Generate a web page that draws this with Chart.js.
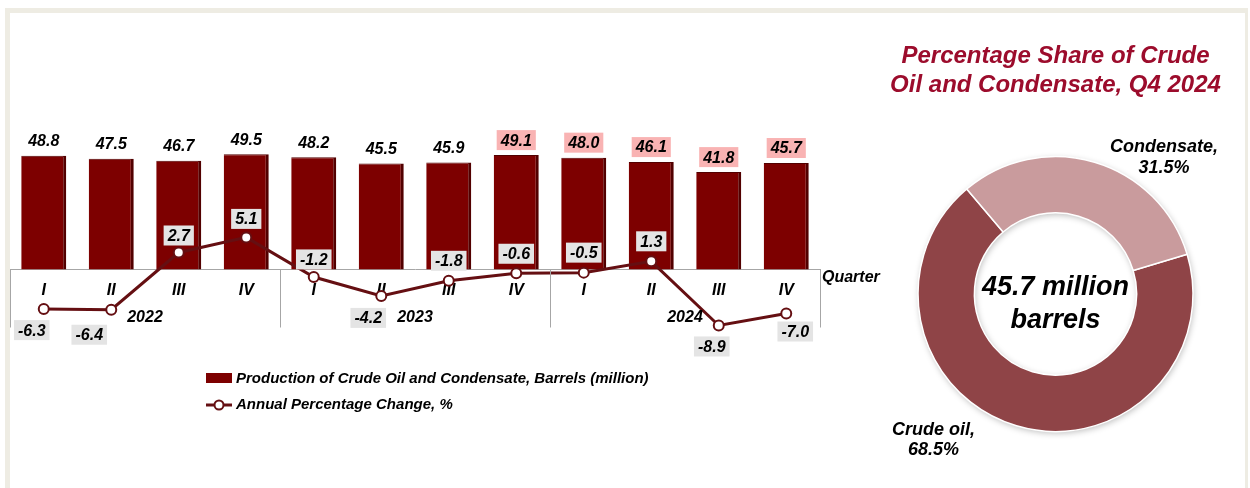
<!DOCTYPE html>
<html><head><meta charset="utf-8">
<script src="https://cdn.jsdelivr.net/npm/chart.js@4.4.1/dist/chart.umd.min.js"></script>
<style>
html,body{margin:0;padding:0;background:#fff;width:1250px;height:488px;overflow:hidden;position:relative;}
#frame{position:absolute;left:5px;top:8px;width:1235px;height:490px;border-top:5px solid #eeece3;border-left:5px solid #eeece3;border-right:3px solid #eeece3;}
#c1{position:absolute;left:0;top:0;}
#c2{position:absolute;left:856px;top:0;}
</style></head><body>
<div id="frame"></div>
<canvas id="c1" width="900" height="488"></canvas>
<canvas id="c2" width="399" height="488"></canvas>
<script>
// ---- data ----
const quarters = ['I','II','III','IV','I','II','III','IV','I','II','III','IV'];
const years = ['2022','2023','2024'];
const production = [48.8,47.5,46.7,49.5,48.2,45.5,45.9,49.1,48.0,46.1,41.8,45.7];
const pctChange = [-6.3,-6.4,2.7,5.1,-1.2,-4.2,-1.8,-0.6,-0.5,1.3,-8.9,-7.0];
const prodLabel = 'Production of Crude Oil and Condensate, Barrels (million)';
const pctLabel = 'Annual Percentage Change, %';
const axisTitle = 'Quarter';
const shareLabels = ['Crude oil','Condensate'];
const shareValues = [68.5,31.5];
const donutTitle = ['Percentage Share of Crude','Oil and Condensate, Q4 2024'];
const centerText = ['45.7 million','barrels'];

// ---- label placement (style) ----
const highlightFrom = 7;
const lineLabelOffsets = [[-12,21],[-22,25],[0,-17],[0,-18.5],[0,-17.6],[-13,22],[0,-20],[0,-19.5],[0,-20],[0,-20],[-7,21],[9,18]];
const sliceLabelOffsets = [[-122,136,156],[108.5,-147,-126]];

const FAM = "'Liberation Sans', Arial, Helvetica, sans-serif";
const F = s => `italic bold ${s}px ${FAM}`;
const BAR = '#7d0000', LINE = '#650f12';

const comboPlugin = {
  id: 'combo',
  afterDatasetsDraw(chart) {
    const ctx = chart.ctx;
    const x = chart.scales.x;
    const yz = chart.scales.y.getPixelForValue(0);
    ctx.save();
    // group separators
    ctx.strokeStyle = '#a6a6a6'; ctx.lineWidth = 1;
    for (let g = 0; g <= years.length; g++) {
      const px = Math.round(x.getPixelForValue(g*4 - 0.5)) + 0.5;
      ctx.beginPath(); ctx.moveTo(px, yz); ctx.lineTo(px, yz + 58); ctx.stroke();
    }
    ctx.fillStyle = '#000'; ctx.font = F(16); ctx.textBaseline = 'middle'; ctx.textAlign = 'center';
    years.forEach((yr, g) => ctx.fillText(yr, x.getPixelForValue(g*4 + 1.5), yz + 48));
    ctx.textAlign = 'left';
    ctx.fillText(axisTitle, x.right + 2, yz + 8);
    // bar labels
    ctx.textAlign = 'center';
    chart.getDatasetMeta(0).data.forEach((bar, i) => {
      const t = production[i].toFixed(1);
      const cy = bar.y - 15;
      if (i >= highlightFrom) {
        const w = ctx.measureText(t).width + 8;
        ctx.fillStyle = '#f9b3b3';
        ctx.fillRect(bar.x - w/2, cy - 10, w, 20);
      }
      ctx.fillStyle = '#000';
      ctx.fillText(t, bar.x, cy + 1);
    });
    // line labels
    chart.getDatasetMeta(1).data.forEach((pt, i) => {
      const t = pctChange[i].toFixed(1);
      const [dx, dy] = lineLabelOffsets[i];
      const cx = pt.x + dx, cy = pt.y + dy;
      const w = ctx.measureText(t).width + 8;
      ctx.fillStyle = '#e4e4e4';
      ctx.fillRect(cx - w/2, cy - 10, w, 20);
      ctx.fillStyle = '#000';
      ctx.fillText(t, cx, cy + 1);
    });
    ctx.restore();
  },
  afterDraw(chart) {
    const ctx = chart.ctx;
    const ds = chart.data.datasets;
    ctx.save();
    ctx.font = F(15); ctx.textBaseline = 'middle'; ctx.textAlign = 'left'; ctx.fillStyle = '#000';
    // bar legend item
    ctx.fillStyle = ds[0].backgroundColor;
    ctx.fillRect(206, 373, 26, 10);
    ctx.fillStyle = '#000';
    ctx.fillText(ds[0].label, 236, 379);
    // line legend item
    ctx.strokeStyle = ds[1].borderColor; ctx.lineWidth = 3;
    ctx.beginPath(); ctx.moveTo(206, 405); ctx.lineTo(232, 405); ctx.stroke();
    ctx.beginPath(); ctx.arc(219, 405, 4.5, 0, Math.PI*2);
    ctx.fillStyle = '#fff'; ctx.fill(); ctx.lineWidth = 2; ctx.stroke();
    ctx.fillStyle = '#000';
    ctx.fillText(ds[1].label, 236, 405);
    ctx.restore();
  }
};

new Chart(document.getElementById('c1'), {
  data: {
    labels: quarters,
    datasets: [
      { type: 'bar', label: prodLabel, data: production, yAxisID: 'y', order: 1,
        backgroundColor: BAR, borderColor: '#520000', borderWidth: {top: 1, right: 3, left: 0, bottom: 0},
        borderSkipped: 'start', barPercentage: 0.667, categoryPercentage: 1 },
      { type: 'line', label: pctLabel, data: pctChange, yAxisID: 'y1', order: 0,
        borderColor: LINE, borderWidth: 3, tension: 0,
        pointRadius: 5, pointBackgroundColor: '#fff', pointBorderColor: LINE, pointBorderWidth: 2 }
    ]
  },
  options: {
    responsive: false, animation: false,
    layout: { padding: { left: 10, right: 80, top: 36.5, bottom: 125.3 } },
    plugins: { legend: { display: false }, tooltip: { enabled: false } },
    scales: {
      x: { type: 'category', position: { y: 0 }, offset: true,
        grid: { display: false, drawTicks: false },
        border: { display: true, color: '#a6a6a6', width: 1 },
        ticks: { font: { family: FAM, size: 16, style: 'italic', weight: 'bold' }, color: '#000', padding: 11, maxRotation: 0, autoSkip: false } },
      y: { display: false, min: -40, max: 100 },
      y1: { display: false, min: -14.82, max: 37.04 }
    }
  },
  plugins: [comboPlugin]
});

const donutPlugin = {
  id: 'donutText',
  afterDatasetsDraw(chart) {
    const ctx = chart.ctx;
    const meta = chart.getDatasetMeta(0);
    const cx = meta.data[0].x, cy = meta.data[0].y;
    ctx.save();
    ctx.fillStyle = '#000'; ctx.textAlign = 'center'; ctx.textBaseline = 'middle';
    ctx.font = F(27);
    ctx.fillText(centerText[0], cx, cy - 6);
    ctx.fillText(centerText[1], cx, cy + 27);
    ctx.font = F(18);
    shareLabels.forEach((lab, i) => {
      const [dx, dy1, dy2] = sliceLabelOffsets[i];
      ctx.fillText(lab + ',', cx + dx, cy + dy1);
      ctx.fillText(shareValues[i].toFixed(1) + '%', cx + dx, cy + dy2);
    });
    ctx.restore();
  },
  beforeDatasetsDraw(chart) {
    const ctx = chart.ctx;
    const meta = chart.getDatasetMeta(0);
    const a = meta.data[0];
    ctx.save();
    ctx.shadowColor = 'rgba(0,0,0,0.25)'; ctx.shadowBlur = 6; ctx.shadowOffsetX = 1; ctx.shadowOffsetY = 2;
    ctx.beginPath(); ctx.arc(a.x, a.y, a.outerRadius, 0, Math.PI*2);
    ctx.arc(a.x, a.y, a.innerRadius, 0, Math.PI*2, true);
    ctx.fillStyle = '#ffffff'; ctx.fill('evenodd');
    ctx.restore();
  }
};

new Chart(document.getElementById('c2'), {
  type: 'doughnut',
  data: { labels: shareLabels, datasets: [{ data: shareValues,
    backgroundColor: ['#8f4447', '#c99b9d'], borderColor: '#ffffff', borderWidth: 1.5, hoverOffset: 0 }] },
  options: {
    responsive: false, animation: false,
    rotation: 73.2, cutout: '59%', radius: 137.5,
    layout: { padding: { left: 0, right: 0, top: 0, bottom: 30 } },
    plugins: {
      legend: { display: false }, tooltip: { enabled: false },
      title: { display: true, text: donutTitle, color: '#9c0c2c',
        font: { family: FAM, size: 24, style: 'italic', weight: 'bold', lineHeight: 1.2 },
        padding: { top: 42.3, bottom: 30.1 } }
    }
  },
  plugins: [donutPlugin]
});
</script>
</body></html>
